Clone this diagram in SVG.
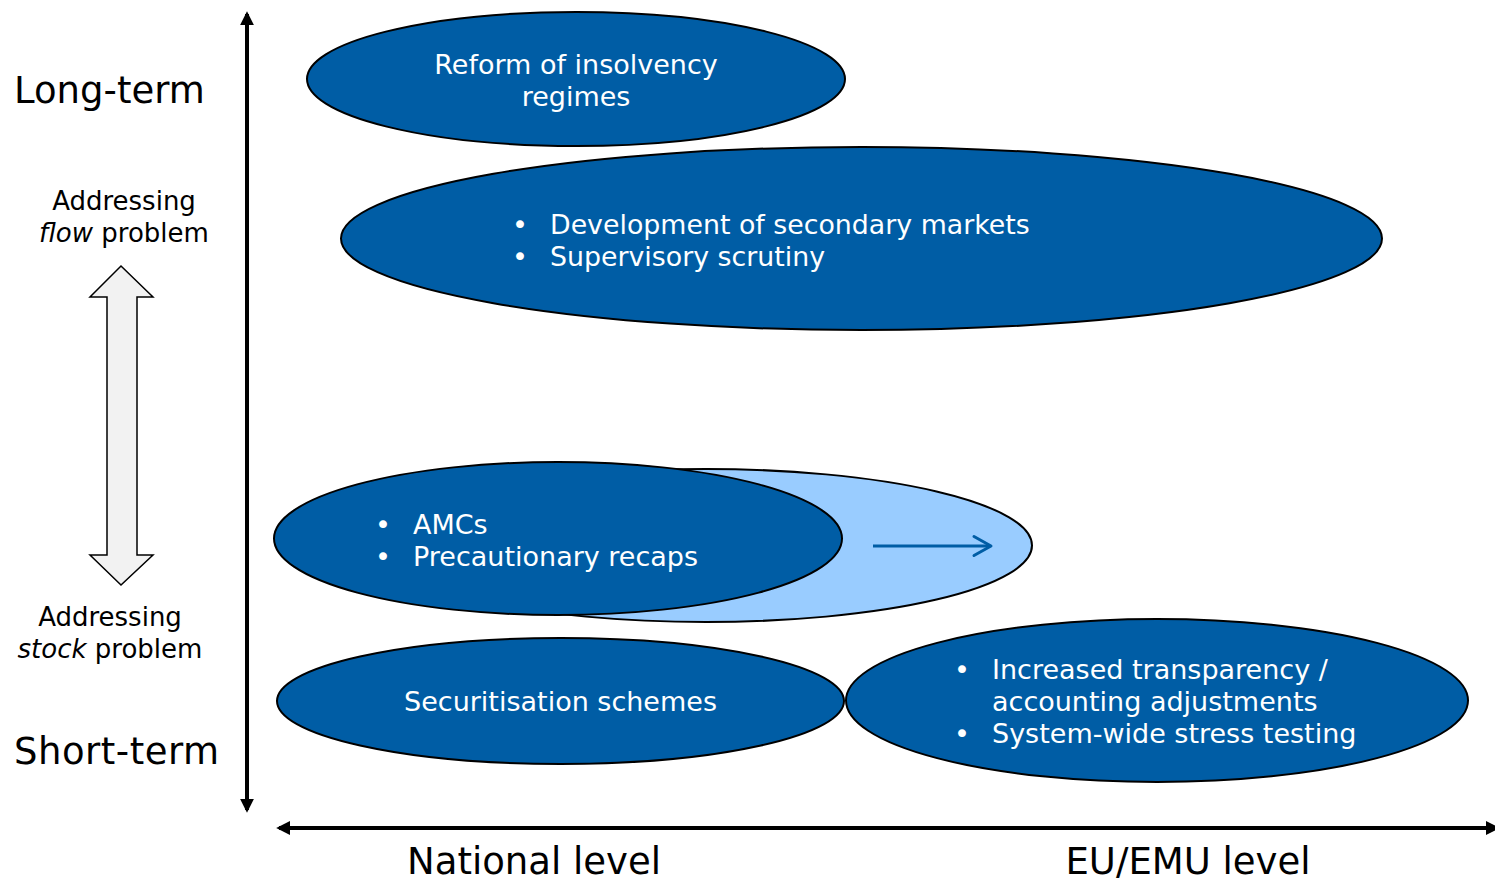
<svg xmlns="http://www.w3.org/2000/svg" width="1495" height="880" viewBox="0 0 1495 880">
<defs>
<style>
text{font-family:"DejaVu Sans",Verdana,sans-serif}
.node{fill:#005DA5;stroke:#000;stroke-width:2}
.light{fill:#99CCFF;stroke:#000;stroke-width:2}
.w{fill:#fff;font-size:27px}
.dev{font-size:26.8px}
.lbl{fill:#000;font-size:26px}
.big{fill:#000;font-size:37px}
.axis{stroke:#000;stroke-width:4;fill:none}
</style>
<marker id="ah" viewBox="0 0 10 10" refX="8" refY="5" markerWidth="3.5" markerHeight="3.5" orient="auto-start-reverse">
<path d="M0,0 L10,5 L0,10 z" fill="#000"/>
</marker>
</defs>
<rect width="1495" height="880" fill="#fff"/>

<g id="connectors">
<line class="axis" x1="247" y1="14" x2="247" y2="810" marker-start="url(#ah)" marker-end="url(#ah)"/>
<line class="axis" x1="279" y1="828" x2="1497" y2="828" marker-start="url(#ah)" marker-end="url(#ah)"/>
<path id="updown" d="M121,266 L153,297 L137,297 L137,555 L153,555 L121,585 L90,555 L107,555 L107,297 L90,297 Z" fill="#F2F2F2" stroke="#000" stroke-width="1.5"/>
</g>

<g id="axis-labels">
<text class="big" x="14" y="103">Long-term</text>
<text class="big" x="14" y="764" textLength="205">Short-term</text>
<text class="lbl" x="124" y="210" text-anchor="middle">Addressing</text>
<text class="lbl" x="124" y="242" text-anchor="middle"><tspan font-style="italic">flow</tspan> problem</text>
<text class="lbl" x="110" y="626" text-anchor="middle">Addressing</text>
<text class="lbl" x="110" y="658" text-anchor="middle"><tspan font-style="italic">stock</tspan> problem</text>
<text class="big" x="534" y="874" text-anchor="middle">National level</text>
<text class="big" x="1188" y="874" text-anchor="middle">EU/EMU level</text>
</g>

<g id="reform">
<ellipse class="node" cx="576" cy="79" rx="269" ry="67"/>
<text class="w" x="576" y="74" text-anchor="middle">Reform of insolvency</text>
<text class="w" x="576" y="106" text-anchor="middle">regimes</text>
</g>

<g id="development">
<ellipse class="node" cx="861.5" cy="238.5" rx="520.5" ry="91.5"/>
<text class="w" x="512" y="234">•</text>
<text class="w dev" x="550" y="234">Development of secondary markets</text>
<text class="w" x="512" y="266">•</text>
<text class="w dev" x="550" y="266">Supervisory scrutiny</text>
</g>

<g id="amcs-eu">
<ellipse class="light" cx="706" cy="545.5" rx="326" ry="76.5"/>
<line x1="873" y1="546" x2="990" y2="546" stroke="#005DA5" stroke-width="3"/>
<path d="M974,536.5 L991,546 L974,555.5" fill="none" stroke="#005DA5" stroke-width="3" stroke-linecap="round" stroke-linejoin="round"/>
</g>

<g id="amcs">
<ellipse class="node" cx="558" cy="538.5" rx="284" ry="76.5"/>
<text class="w" x="375" y="534">•</text>
<text class="w" x="413" y="534">AMCs</text>
<text class="w" x="375" y="566">•</text>
<text class="w" x="413" y="566">Precautionary recaps</text>
</g>

<g id="securitisation">
<ellipse class="node" cx="560.5" cy="701" rx="283.5" ry="63"/>
<text class="w" x="560.5" y="711" text-anchor="middle">Securitisation schemes</text>
</g>

<g id="transparency">
<ellipse class="node" cx="1157" cy="700.5" rx="311" ry="81.5"/>
<text class="w" x="954" y="679">•</text>
<text class="w" x="992" y="679">Increased transparency /</text>
<text class="w" x="992" y="711">accounting adjustments</text>
<text class="w" x="954" y="743">•</text>
<text class="w" x="992" y="743">System-wide stress testing</text>
</g>
</svg>
